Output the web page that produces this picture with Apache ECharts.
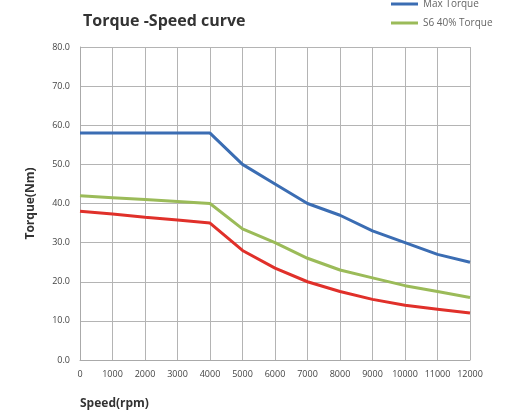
<!DOCTYPE html>
<html><head><meta charset="utf-8">
<script src="https://cdn.jsdelivr.net/npm/echarts@6/dist/echarts.min.js"></script>
<style>html,body{margin:0;padding:0;background:#fff}#c{width:508px;height:415px}</style>
</head><body><div id="c"></div>
<script>
var speeds = [0, 1000, 2000, 3000, 4000, 5000, 6000, 7000, 8000, 9000, 10000, 11000, 12000];
var maxTorque = [58, 58, 58, 58, 58, 50, 45, 40, 37, 33, 30, 27, 25];
var s6Torque = [42, 41.5, 41, 40.5, 40, 33.5, 30, 26, 23, 21, 19, 17.5, 16];
var ratedTorque = [38, 37.3, 36.5, 35.8, 35, 28, 23.5, 20, 17.5, 15.5, 14, 13, 12];
function pairs(v){ return speeds.map(function(s,i){ return [s, v[i]]; }); }
var chart = echarts.init(document.getElementById('c'));
chart.setOption({
  animation: false,
  title: { text: 'Torque -Speed curve', left: 78, top: 8, textStyle: { fontFamily: 'Open Sans', fontSize: 16, fontWeight: 'bold', color: '#333' } },
  legend: {
    orient: 'vertical', left: 386, top: -6, itemGap: 9, itemWidth: 27, itemHeight: 3, icon: 'rect',
    data: ['Max Torque', 'S6 40% Torque'],
    textStyle: { fontFamily: 'Open Sans', fontSize: 10, color: '#666' }
  },
  grid: { left: 80, right: 38, top: 47, bottom: 55 },
  xAxis: {
    type: 'value', min: 0, max: 12000, interval: 1000,
    name: 'Speed(rpm)', nameLocation: 'start', nameGap: 0,
    nameTextStyle: { fontFamily: 'Open Sans', fontSize: 12, fontWeight: 'bold', color: '#333', align: 'left', verticalAlign: 'top', padding: [38, 0, 0, 0] },
    axisLine: { lineStyle: { color: '#aaa' } }, axisTick: { show: false },
    axisLabel: { fontFamily: 'Open Sans', fontSize: 9, color: '#444', margin: 10, formatter: function(v){ return String(v); } },
    splitLine: { show: true, lineStyle: { color: '#b4b4b4', width: 1 } }
  },
  yAxis: {
    type: 'value', min: 0, max: 80, interval: 10,
    name: 'Torque(Nm)', nameLocation: 'middle', nameGap: 43,
    nameTextStyle: { fontFamily: 'Open Sans', fontSize: 12, fontWeight: 'bold', color: '#333' },
    axisLine: { show: true, lineStyle: { color: '#aaa' } }, axisTick: { show: false },
    axisLabel: { fontFamily: 'Open Sans', fontSize: 9, color: '#444', margin: 10, formatter: function(v){ return v.toFixed(1); } },
    splitLine: { show: true, lineStyle: { color: '#b4b4b4', width: 1 } }
  },
  series: [
    { name: 'Max Torque', type: 'line', data: pairs(maxTorque), symbol: 'none', color: '#3b6db3', lineStyle: { width: 3 } },
    { name: 'S6 40% Torque', type: 'line', data: pairs(s6Torque), symbol: 'none', color: '#9bbb59', lineStyle: { width: 3 } },
    { name: 'Rated Torque', type: 'line', data: pairs(ratedTorque), symbol: 'none', color: '#e0302a', lineStyle: { width: 3 } }
  ]
});
</script></body></html>
